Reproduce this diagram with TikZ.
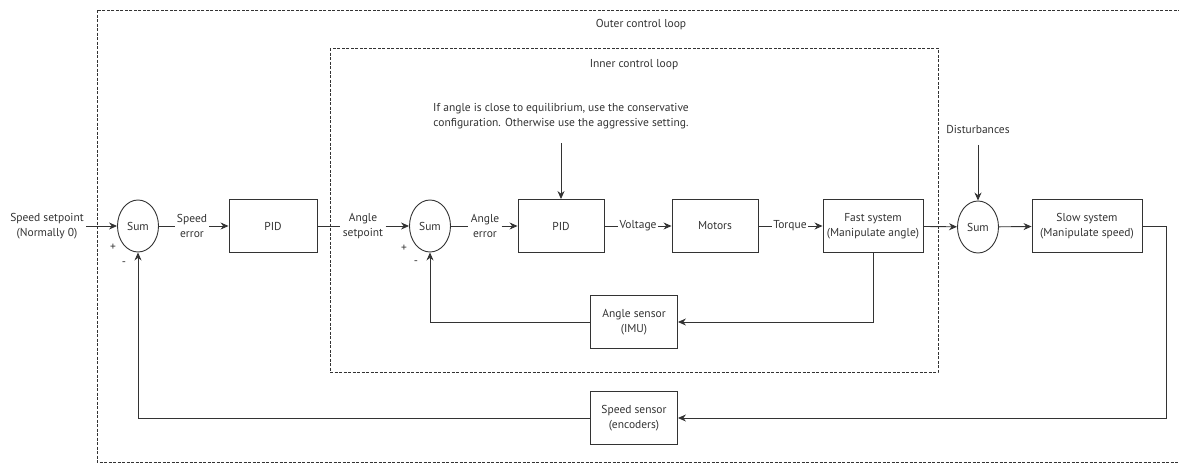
\documentclass[tikz,border=0pt]{standalone}
\usepackage{fontspec}
\setmainfont{PT Sans}
\usetikzlibrary{shapes.geometric,arrows.meta}

\begin{document}
\begin{tikzpicture}[x=1pt, y=-1pt, line width=0.9pt, color=black!80,
  every node/.style={font=\fontsize{11.5}{15.5}\selectfont, text=black!80},
  blk/.style={draw, minimum width=86pt, minimum height=53pt, inner sep=2pt, align=center},
  sumnode/.style={draw, ellipse, minimum width=41pt, minimum height=52pt, inner sep=1pt},
  lbl/.style={align=center, inner sep=2pt},
  loopbox/.style={dash pattern=on 3pt off 1.5pt, line width=0.7pt},
  >={Stealth[length=8pt,width=7pt]}]
\useasboundingbox (0,0) rectangle (1179,464);
% loops
\draw[loopbox] (97,10) rectangle (1195,462);
\draw[loopbox] (330,48) rectangle (938,372);
\node (outer) at (641,25) {Outer control loop};
\node (inner) at (634,65) {Inner control loop};
% forward path
\node[lbl] (ssp) at (47,226) {Speed setpoint\\(Normally 0)};
\node[sumnode] (sum1) at (138,226) {Sum};
\node[lbl] (serr) at (192,226) {Speed\\error};
\node[blk,minimum width=88pt] (pid1) at (273,226) {PID};
\node[lbl] (aset) at (363,226) {Angle\\setpoint};
\node[sumnode] (sum2) at (430,226) {Sum};
\node[lbl] (aerr) at (485,226) {Angle\\error};
\node[blk] (pid2) at (561,226) {PID};
\node[lbl,inner sep=1pt] (volt) at (638,226) {Voltage};
\node[blk] (motors) at (715,226) {Motors};
\node[lbl,inner sep=1pt] (torque) at (790,226) {Torque};
\node[blk,minimum width=100pt] (fast) at (873,226) {Fast system\\(Manipulate angle)};
\node[sumnode] (sum3) at (978,227) {Sum};
\node[blk,minimum width=110pt] (slow) at (1087,226) {Slow system\\(Manipulate speed)};
% inputs from above
\node[lbl] (mode) at (561,116) {If angle is close to equilibrium, use the conservative\\configuration. Otherwise use the aggressive setting.};
\node (dist) at (978,129) {Disturbances};
% sensors
\node[blk,minimum width=87pt] (asens) at (634,322) {Angle sensor\\(IMU)};
\node[blk,minimum width=87pt] (ssens) at (634,418) {Speed sensor\\(encoders)};
% signs
\node (p1) at (113,247) {+}; \node (m1) at (124,264) {-};
\node (p2) at (404,248) {+}; \node (m2) at (416,263) {-};
% connections
\draw[->] (ssp) -- (sum1); \draw (sum1) -- (serr); \draw[->] (serr) -- (pid1);
\draw (pid1) -- (aset); \draw[->] (aset) -- (sum2); \draw (sum2) -- (aerr); \draw[->] (aerr) -- (pid2);
\draw (pid2) -- (volt); \draw[->] (volt) -- (motors); \draw (motors) -- (torque); \draw[->] (torque) -- (fast);
\draw[->] (fast) -- (sum3); \draw[->] (sum3) -- (slow);
\draw[->] (mode.south) ++(0,12) -- (pid2.north);
\draw[->] (dist.south) ++(0,8) -- (sum3.north);
\draw[->] (fast.south) |- (asens.east); \draw[->] (asens.west) -| (sum2.south);
\draw[->] (slow.east) -- ++(24,0) |- (ssens.east); \draw[->] (ssens.west) -| (sum1.south);
\end{tikzpicture}
\end{document}
